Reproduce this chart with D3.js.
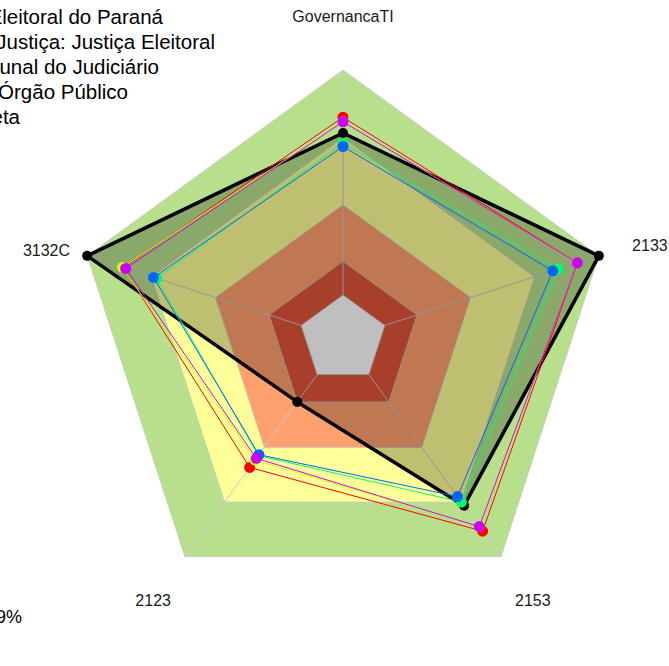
<!DOCTYPE html>
<html>
<head>
<meta charset="utf-8">
<script src="https://cdn.jsdelivr.net/npm/d3@7"></script>
<style>
  body { margin: 0; background: #fff; }
  svg { display: block; font-family: "Liberation Sans", Arial, sans-serif; }
</style>
</head>
<body>
<div id="chart"></div>
<script>
// eixos do radar (sentido horario a partir do topo)
const axes = ["GovernancaTI", "2133", "2153", "2123", "3132C"];

// faixas de capacidade (limite superior de cada faixa)
const levels = [1.0, 0.70, 0.40, 0.15, 0];
const levelColors = ["#B8E08C", "#FFFF99", "#FFA06E", "#E15538", "#FFFFFF"];

// series
const red = [0.79, 0.90, 0.86, 0.51, 0.83];
const yellow = [0.77, 0.90, 0.835, 0.47, 0.835];
const green = [0.675, 0.81, 0.70, 0.445, 0.675];
const blue = [0.66, 0.785, 0.67, 0.44, 0.69];
const magenta = [0.77, 0.90, 0.835, 0.46, 0.82];
const meta = [0.72, 1.0, 0.72, 0.15, 1.0];

const seriesColors = ["#FF0000", "#CCFF00", "#00FF66", "#0066FF", "#CC00FF"];

// legenda (cortada a esquerda no original)
const legendLabels = [
    "Tribunal Regional Eleitoral do Paraná",
    "Segmento de Justiça: Justiça Eleitoral",
    "Média Tribunal do Judiciário",
    "Média Órgão Público",
    "Meta"
];
const footNote = "9%";

const width = 669;
const height = 666;
const cx = 343, cy = 339;

const svg = d3.select("#chart")
    .append("svg")
    .attr("width", width)
    .attr("height", height);

const r = d3.scaleLinear().domain([0, 1]).range([44, 269]);
const angle = d3.scalePoint().domain(d3.range(axes.length + 1)).range([0, 2 * Math.PI]);

const radial = d3.lineRadial()
    .angle((d, i) => angle(i))
    .radius(d => r(d))
    .curve(d3.curveLinearClosed);

const g = svg.append("g").attr("transform", `translate(${cx},${cy})`);

// faixas coloridas
levels.forEach((lv, k) => {
    g.append("path")
        .attr("d", radial(axes.map(() => lv)))
        .attr("fill", levelColors[k])
        .attr("stroke", "#c8c8c8")
        .attr("stroke-width", 0.8);
});

// linhas radiais
axes.forEach((a, i) => {
    const t = angle(i);
    g.append("line")
        .attr("x1", r(0) * Math.sin(t)).attr("y1", -r(0) * Math.cos(t))
        .attr("x2", r(1) * Math.sin(t)).attr("y2", -r(1) * Math.cos(t))
        .attr("stroke", "#c8c8c8")
        .attr("stroke-width", 1);
});

function px(v, i) { return r(v) * Math.sin(angle(i)); }
function py(v, i) { return -r(v) * Math.cos(angle(i)); }

// meta (preenchida)
g.append("path")
    .attr("d", radial(meta))
    .attr("fill", "rgba(0,0,0,0.25)")
    .attr("stroke", "#000")
    .attr("stroke-width", 3.5)
    .attr("stroke-linejoin", "round");
g.selectAll(".meta-pt")
    .data(meta)
    .enter()
    .append("circle")
    .attr("cx", (d, i) => px(d, i))
    .attr("cy", (d, i) => py(d, i))
    .attr("r", 5)
    .attr("fill", "#000");

// demais series
[red, yellow, green, blue, magenta].forEach((s, k) => {
    g.append("path")
        .attr("d", radial(s))
        .attr("fill", "none")
        .attr("stroke", seriesColors[k])
        .attr("stroke-width", 1);
    g.selectAll(null)
        .data(s)
        .enter()
        .append("circle")
        .attr("cx", (d, i) => px(d, i))
        .attr("cy", (d, i) => py(d, i))
        .attr("r", 5.5)
        .attr("fill", seriesColors[k]);
});

// rotulos dos eixos (ancorados conforme o lado)
axes.forEach((a, i) => {
    const t = angle(i);
    const s = Math.sin(t);
    let anchor = "middle", L = 323;
    if (s > 0.8) { anchor = "start"; L = 304; }
    if (s < -0.8) { anchor = "end"; L = 287; }
    g.append("text")
        .attr("x", L * s)
        .attr("y", -L * Math.cos(t))
        .attr("text-anchor", anchor)
        .attr("dominant-baseline", "central")
        .style("font-size", "16px")
        .attr("fill", "#1a1a1a")
        .text(a);
});

// legenda
const legendRight = [163, 215, 159, 128, 20];
legendLabels.forEach((t, i) => {
    svg.append("text")
        .attr("x", legendRight[i])
        .attr("y", 16 + i * 25)
        .attr("text-anchor", "end")
        .attr("dominant-baseline", "central")
        .style("font-size", "20.5px")
        .attr("fill", "#000")
        .text(t);
});

svg.append("text")
    .attr("x", 22)
    .attr("y", 617)
    .attr("text-anchor", "end")
    .attr("dominant-baseline", "central")
    .style("font-size", "18px")
    .attr("fill", "#000")
    .text(footNote);
</script>
</body>
</html>
